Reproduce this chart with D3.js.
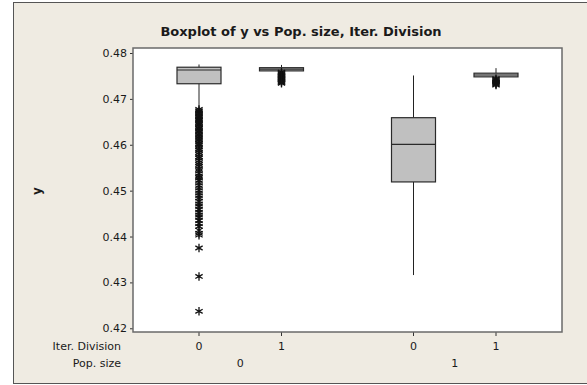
<!DOCTYPE html>
<html>
<head>
<meta charset="utf-8">
<script src="https://cdn.jsdelivr.net/npm/d3@7"></script>
<style>
  body { margin: 0; background: #fff; }
  text { font-family: "DejaVu Sans", sans-serif; fill: #1a1a1a; }
</style>
</head>
<body>
<script>
// canvas size
var width = 587
var height = 385

// groups, left to right
const popSize = ["0", "0", "1", "1"];
const iterDiv = ["0", "1", "0", "1"];

// box statistics
const whiskerLow  = [0.4683, 0.4759, 0.4316, 0.4745];
const q1          = [0.4733, 0.4761, 0.4519, 0.4748];
const median      = [0.4763, 0.4765, 0.4601, 0.4752];
const q3          = [0.4769, 0.4768, 0.4659, 0.4756];
const whiskerHigh = [0.4775, 0.4774, 0.4751, 0.4767];

// outliers (asterisks) per group
const outliers0 = [0.4677, 0.4674, 0.4672, 0.4669, 0.4667, 0.4663, 0.4661, 0.4658, 0.4655, 0.4653,
  0.4649, 0.4646, 0.4644, 0.4640, 0.4637, 0.4635, 0.4631, 0.4628, 0.4624, 0.4621,
  0.4618, 0.4614, 0.4611, 0.4607, 0.4603, 0.4600, 0.4595, 0.4591, 0.4588, 0.4583,
  0.4579, 0.4574, 0.4571, 0.4566, 0.4561, 0.4557, 0.4553, 0.4547, 0.4543, 0.4537,
  0.4532, 0.4528, 0.4522, 0.4517, 0.4511, 0.4506, 0.4500, 0.4495, 0.4489, 0.4484,
  0.4477, 0.4471, 0.4466, 0.4459, 0.4453, 0.4447, 0.4442, 0.4435, 0.4428, 0.4422,
  0.4414, 0.4407, 0.4403, 0.4375, 0.4313, 0.4237];
const outliers1 = [0.4758, 0.4756, 0.4754, 0.4752, 0.4750, 0.4748, 0.4746, 0.4744,
  0.4742, 0.4740, 0.4738, 0.4736, 0.4734];
const outliers2 = [];
const outliers3 = [0.4744, 0.4742, 0.4740, 0.4738, 0.4736, 0.4734, 0.4732, 0.4730];
const outliers = [outliers0, outliers1, outliers2, outliers3];

const yTicks = [0.42, 0.43, 0.44, 0.45, 0.46, 0.47, 0.48];

const title = "Boxplot of y vs Pop. size, Iter. Division";

const svg = d3.select("body").append("svg")
  .attr("width", width)
  .attr("height", height)

// beige frame
svg.append("rect")
  .attr("x", 13.5).attr("y", 2.5)
  .attr("width", width).attr("height", 381)
  .style("fill", "#efebe2")
  .style("stroke", "#555").style("stroke-width", 1)

var plot = {left: 133, right: 562, top: 48, bottom: 332}

var y = d3.scaleLinear()
  .domain([0.41919, 0.48109])
  .range([plot.bottom, plot.top])

// pop. size outer positions, iter. division inside
var xOuter = d3.scalePoint().domain(["0", "1"]).range([plot.left, plot.right]).padding(0.5)
var half = (plot.right - plot.left) / 4
var xInner = d3.scalePoint().domain(["0", "1"]).range([-half, half]).padding(0.8)
var xPos = i => xOuter(popSize[i]) + xInner(iterDiv[i])

var boxW = 44

svg.append("rect")
  .attr("x", plot.left).attr("y", plot.top)
  .attr("width", plot.right - plot.left).attr("height", plot.bottom - plot.top)
  .style("fill", "#fff")

// y axis
var yAxis = svg.append("g")
  .attr("transform", "translate(" + plot.left + ",0)")
  .call(d3.axisLeft(y).tickValues(yTicks).tickFormat(d3.format(".2f")).tickSize(3).tickPadding(3))
yAxis.select(".domain").remove()
yAxis.selectAll("line").style("stroke", "#333")
yAxis.selectAll("text").style("font-size", "11px").style("font-family", "DejaVu Sans").attr("fill", "#1a1a1a")

// x ticks
var idx = d3.range(popSize.length)
svg.selectAll(".xtick").data(idx).enter().append("line")
  .attr("x1", i => xPos(i)).attr("x2", i => xPos(i))
  .attr("y1", plot.bottom).attr("y2", plot.bottom + 4)
  .style("stroke", "#333")

svg.selectAll(".xlab").data(idx).enter().append("text")
  .attr("x", i => xPos(i)).attr("y", 350)
  .attr("text-anchor", "middle").style("font-size", "11px")
  .text(i => iterDiv[i])

svg.selectAll(".plab").data(xOuter.domain()).enter().append("text")
  .attr("x", d => xOuter(d)).attr("y", 367)
  .attr("text-anchor", "middle").style("font-size", "11px")
  .text(d => d)

svg.append("text").attr("x", 121).attr("y", 350)
  .attr("text-anchor", "end").style("font-size", "11px").text("Iter. Division")
svg.append("text").attr("x", 121).attr("y", 367)
  .attr("text-anchor", "end").style("font-size", "11px").text("Pop. size")

// y axis title
svg.append("text")
  .attr("transform", "translate(41,191) rotate(-90)")
  .attr("text-anchor", "middle")
  .style("font-size", "12px").style("font-weight", "bold")
  .text("y")

// title
svg.append("text")
  .attr("x", 301).attr("y", 36)
  .attr("text-anchor", "middle")
  .style("font-size", "13px").style("font-weight", "bold")
  .text(title)

// whiskers
var g = svg.selectAll(".box").data(idx).enter().append("g")
g.append("line")
  .attr("x1", i => xPos(i)).attr("x2", i => xPos(i))
  .attr("y1", i => y(whiskerHigh[i])).attr("y2", i => y(q3[i]))
  .style("stroke", "#222")
g.append("line")
  .attr("x1", i => xPos(i)).attr("x2", i => xPos(i))
  .attr("y1", i => y(q1[i])).attr("y2", i => y(whiskerLow[i]))
  .style("stroke", "#222")

// boxes
g.append("rect")
  .attr("x", i => xPos(i) - boxW / 2)
  .attr("y", i => y(q3[i]))
  .attr("width", boxW)
  .attr("height", i => y(q1[i]) - y(q3[i]))
  .style("fill", "#c0c0c0")
  .style("stroke", "#2a2a2a").style("stroke-width", 1.2)
g.append("line")
  .attr("x1", i => xPos(i) - boxW / 2).attr("x2", i => xPos(i) + boxW / 2)
  .attr("y1", i => y(median[i])).attr("y2", i => y(median[i]))
  .style("stroke", "#2a2a2a").style("stroke-width", 1.2)

// outliers
var star = d3.symbol().type(d3.symbolAsterisk).size(50)
g.each(function(i) {
  d3.select(this).selectAll("path").data(outliers[i]).enter().append("path")
    .attr("d", star)
    .attr("transform", d => "translate(" + xPos(i) + "," + y(d) + ")")
    .style("fill", "none").style("stroke", "#111").style("stroke-width", 1.3)
})

// plot border on top
svg.append("rect")
  .attr("x", plot.left).attr("y", plot.top)
  .attr("width", plot.right - plot.left).attr("height", plot.bottom - plot.top)
  .style("fill", "none")
  .style("stroke", "#6a6a6a").style("stroke-width", 1.5)
</script>
</body>
</html>
